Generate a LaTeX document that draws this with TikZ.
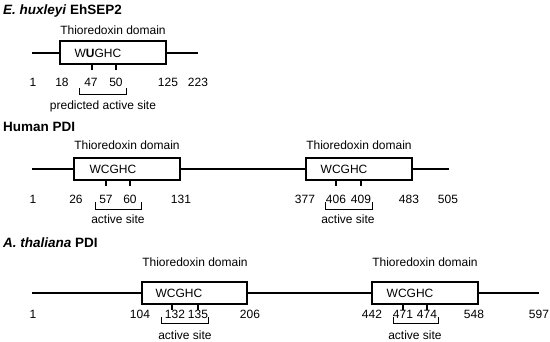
\documentclass[tikz,border=0pt]{standalone}
\usepackage{fontspec}
\setmainfont{Liberation Sans}
\begin{document}
\begin{tikzpicture}[x=1pt,y=-1pt,
  lbl/.style={font=\fontsize{12}{14}\selectfont, inner sep=0pt},
  sitelbl/.style={font=\fontsize{12}{14}\selectfont, inner sep=0pt, anchor=base},
  ttl/.style={font=\fontsize{13.5}{16}\selectfont\bfseries, anchor=base west, inner sep=0pt},
  dom/.style={draw, line width=1.6pt, minimum height=22.5pt, inner sep=0pt},
  backbone/.style={line width=1.6pt},
  tickmark/.style={line width=1.6pt},
  brk/.style={line width=0.8pt}]
\useasboundingbox (0,0) rectangle (550,341);

% ---------- E. huxleyi EhSEP2 ----------
\node[ttl] (t1) at (3,14) {\textit{E. huxleyi} EhSEP2};
\coordinate (a1s) at (32,53);
\coordinate (a1e) at (198,53);
\node[dom, minimum width=106pt] (a1b) at (113,52.5) {};
\draw[backbone] (a1s) -- (a1b.west |- a1s);
\draw[backbone] (a1b.east |- a1e) -- (a1e);
\node[lbl] (a1d) at (113,30) {Thioredoxin domain};
\node[lbl] (a1m) at (98,53) {W\textbf{U}GHC};
\draw[tickmark] (92,64) -- (92,70);
\draw[tickmark] (116,64) -- (116,70);
\node[lbl] (a1n1) at (33,82) {1};
\node[lbl] (a1n2) at (62,82) {18};
\node[lbl] (a1n3) at (91,82) {47};
\node[lbl] (a1n4) at (116,82) {50};
\node[lbl] (a1n5) at (168,82) {125};
\node[lbl] (a1n6) at (198,82) {223};
\coordinate (a1k1) at (79,88);
\coordinate (a1k2) at (126,88);
\draw[brk] (a1k1) -- ++(0,6) -| (a1k2);
\node[sitelbl] (a1s1) at (103,109) {predicted active site};

% ---------- Human PDI ----------
\node[ttl] (t2) at (3,131) {Human PDI};
\coordinate (h1s) at (32,169);
\coordinate (h1e) at (449,169);
\node[dom, minimum width=106pt] (h1b) at (127,169) {};
\node[dom, minimum width=106pt] (h2b) at (359,169) {};
\draw[backbone] (h1s) -- (h1b.west);
\draw[backbone] (h1b.east) -- (h2b.west);
\draw[backbone] (h2b.east) -- (h1e);
\node[lbl] (h1d) at (127,145.5) {Thioredoxin domain};
\node[lbl] (h2d) at (359,145.5) {Thioredoxin domain};
\node[lbl] (h1m) at (113,169.5) {WCGHC};
\node[lbl] (h2m) at (344,169.5) {WCGHC};
\draw[tickmark] (106,180) -- (106,186);
\draw[tickmark] (130,180) -- (130,186);
\draw[tickmark] (336,180) -- (336,186);
\draw[tickmark] (361,180) -- (361,186);
\node[lbl] (h1n1) at (33,199) {1};
\node[lbl] (h1n2) at (76,199) {26};
\node[lbl] (h1n3) at (106,199) {57};
\node[lbl] (h1n4) at (130,199) {60};
\node[lbl] (h1n5) at (181,199) {131};
\node[lbl] (h2n1) at (305,199) {377};
\node[lbl] (h2n2) at (336,199) {406};
\node[lbl] (h2n3) at (361,199) {409};
\node[lbl] (h2n4) at (409,199) {483};
\node[lbl] (h2n5) at (448,199) {505};
\coordinate (h1k1) at (95,202);
\coordinate (h1k2) at (141,202);
\coordinate (h2k1) at (325,202);
\coordinate (h2k2) at (372,202);
\draw[brk] (h1k1) -- ++(0,7) -| (h1k2);
\draw[brk] (h2k1) -- ++(0,7) -| (h2k2);
\node[sitelbl] (h1s1) at (118,223) {active site};
\node[sitelbl] (h2s1) at (348,223) {active site};

% ---------- A. thaliana PDI ----------
\node[ttl] (t3) at (3,247) {\textit{A. thaliana} PDI};
\coordinate (p1s) at (32,293);
\coordinate (p1e) at (539,293);
\node[dom, minimum width=105pt] (p1b) at (194.5,293) {};
\node[dom, minimum width=106pt] (p2b) at (425,293) {};
\draw[backbone] (p1s) -- (p1b.west);
\draw[backbone] (p1b.east) -- (p2b.west);
\draw[backbone] (p2b.east) -- (p1e);
\node[lbl] (p1d) at (195,262) {Thioredoxin domain};
\node[lbl] (p2d) at (425,262) {Thioredoxin domain};
\node[lbl] (p1m) at (179,293.5) {WCGHC};
\node[lbl] (p2m) at (410,293.5) {WCGHC};
\draw[tickmark] (172,304) -- (172,310);
\draw[tickmark] (198,304) -- (198,310);
\draw[tickmark] (403,304) -- (403,310);
\draw[tickmark] (427,304) -- (427,310);
\node[lbl] (p1n1) at (33,314) {1};
\node[lbl] (p1n2) at (140,314) {104};
\node[lbl] (p1n3) at (175,314) {132};
\node[lbl] (p1n4) at (198,314) {135};
\node[lbl] (p1n5) at (250,314) {206};
\node[lbl] (p2n1) at (372,314) {442};
\node[lbl] (p2n2) at (403,314) {471};
\node[lbl] (p2n3) at (427,314) {474};
\node[lbl] (p2n4) at (474,314) {548};
\node[lbl] (p2n5) at (539,314) {597};
\coordinate (p1k1) at (161,317);
\coordinate (p1k2) at (208,317);
\coordinate (p2k1) at (393,317);
\coordinate (p2k2) at (438,317);
\draw[brk] (p1k1) -- ++(0,6) -| (p1k2);
\draw[brk] (p2k1) -- ++(0,6) -| (p2k2);
\node[sitelbl] (p1s1) at (185,339) {active site};
\node[sitelbl] (p2s1) at (415,339) {active site};
\end{tikzpicture}
\end{document}
